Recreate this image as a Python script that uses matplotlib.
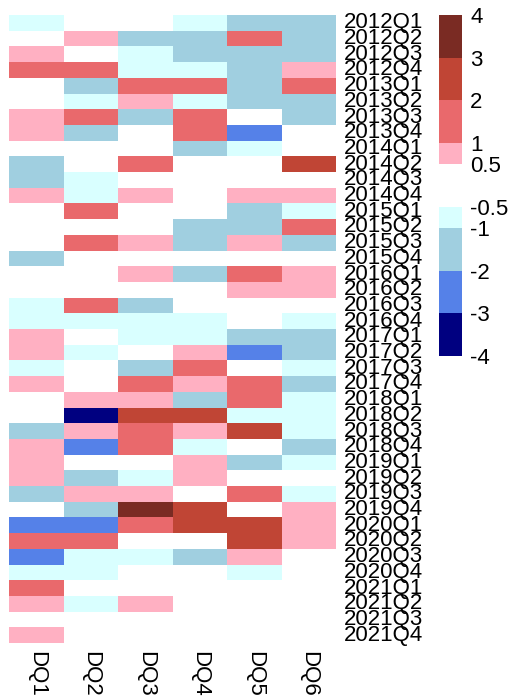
import matplotlib

matplotlib.use("Agg")
import matplotlib.pyplot as plt
import numpy as np
from matplotlib.colors import BoundaryNorm, ListedColormap
from matplotlib.cm import ScalarMappable

plt.rcParams["font.family"] = ["Liberation Sans", "DejaVu Sans"]

# Quarters (rows) and indicators (columns)
quarters = [f"{y}Q{q}" for y in range(2012, 2022) for q in range(1, 5)]
columns = ["DQ1", "DQ2", "DQ3", "DQ4", "DQ5", "DQ6"]

# Values estimated from the colour class of each cell (0 = blank)
dq1 = [-0.8, 0, 0.8, 1.5, 0, 0, 0.8, 0.8, 0, -1.5, -1.5, 0.8, 0, 0, 0, -1.5, 0, 0, -0.8, -0.8,
       0.8, 0.8, -0.8, 0.8, 0, 0, -1.5, 0.8, 0.8, 0.8, -1.5, 0, -2.5, 1.5, -2.5, -0.8, 1.5, 0.8, 0, 0.8]
dq2 = [0, 0.8, 0, 1.5, -1.5, -0.8, 1.5, -1.5, 0, 0, -0.8, -0.8, 1.5, 0, 1.5, 0, 0, 0, 1.5, -0.8,
       0, -0.8, 0, 0, 0.8, -3.5, 0.8, -2.5, 0, -1.5, 0.8, -1.5, -2.5, 1.5, -0.8, -0.8, 0, -0.8, 0, 0]
dq3 = [0, -1.5, -0.8, -0.8, 1.5, 0.8, -1.5, 0, 0, 1.5, 0, 0.8, 0, 0, 0.8, 0, 0.8, 0, -1.5, -0.8,
       -0.8, 0, -1.5, 1.5, 0.8, 2.5, 1.5, 1.5, 0, -0.8, 0.8, 3.5, 1.5, 0, -0.8, 0, 0, 0.8, 0, 0]
dq4 = [-0.8, -1.5, -1.5, -0.8, 1.5, -0.8, 1.5, 1.5, -1.5, 0, 0, 0, 0, -1.5, -1.5, 0, -1.5, 0, 0, -0.8,
       -0.8, 0.8, 1.5, 0.8, -1.5, 2.5, 0.8, -0.8, 0.8, 0.8, 0, 2.5, 2.5, 0, -1.5, 0, 0, 0, 0, 0]
dq5 = [-1.5, 1.5, -1.5, -1.5, -1.5, -1.5, 0, -2.5, -0.8, 0, 0, 0.8, -1.5, -1.5, 0.8, 0, 1.5, 0.8, 0, 0,
       -1.5, -2.5, 0, 1.5, 1.5, -0.8, 2.5, 0, -1.5, 0, 1.5, 0, 2.5, 2.5, 0.8, -0.8, 0, 0, 0, 0]
dq6 = [-1.5, -1.5, -1.5, 0.8, 1.5, -1.5, -1.5, 0, 0, 2.5, 0, 0.8, -0.8, 1.5, -1.5, 0, 0.8, 0.8, 0, -0.8,
       -1.5, -1.5, -0.8, -1.5, -0.8, -0.8, -0.8, -1.5, -0.8, 0, -0.8, 0.8, 0.8, 0.8, 0, 0, 0, 0, 0, 0]

neg_bounds = [-4, -3, -2, -1, -0.5]
pos_bounds = [0.5, 1, 2, 3, 4]
neg_colors = ["#000080", "#5581E8", "#A0CFE0", "#D9FFFF"]
pos_colors = ["#FFB0C2", "#E9696C", "#C04535", "#7A2B23"]

data = np.array([dq1, dq2, dq3, dq4, dq5, dq6]).T

cmap = ListedColormap(neg_colors + ["white"] + pos_colors)
norm = BoundaryNorm(neg_bounds + pos_bounds, cmap.N)

fig = plt.figure(figsize=(5.12, 6.99), dpi=100)
W, H = 512, 699
ax = fig.add_axes([9 / W, 1 - 643 / H, 327 / W, 628 / H])
ax.pcolormesh(data, cmap=cmap, norm=norm)
ax.set_xlim(0, len(columns))
ax.set_ylim(len(quarters), 0)

ax.set_xticks(np.arange(len(columns)) + 0.5)
ax.set_xticklabels(columns, rotation=270, fontsize=16)
ax.set_yticks(np.arange(len(quarters)) + 0.5)
ax.set_yticklabels(quarters, fontsize=16, va="center")
ax.yaxis.tick_right()
ax.tick_params(length=0, pad=6)
for s in ax.spines.values():
    s.set_visible(False)

# Two discrete colour bars: positive on top, negative below
for bounds, colors, top in [(pos_bounds, pos_colors, 15), (neg_bounds, neg_colors, 207)]:
    cax = fig.add_axes([439 / W, 1 - (top + 149) / H, 23 / W, 149 / H])
    cm = ListedColormap(colors)
    nm = BoundaryNorm(bounds, cm.N)
    cb = fig.colorbar(ScalarMappable(norm=nm, cmap=cm), cax=cax,
                      boundaries=bounds, spacing="proportional", ticks=bounds)
    cb.outline.set_visible(False)
    cb.ax.set_yticklabels([f"{b:g}" for b in bounds], fontsize=16)
    cb.ax.tick_params(length=0, pad=6)

fig.savefig("out.png", dpi=100)
